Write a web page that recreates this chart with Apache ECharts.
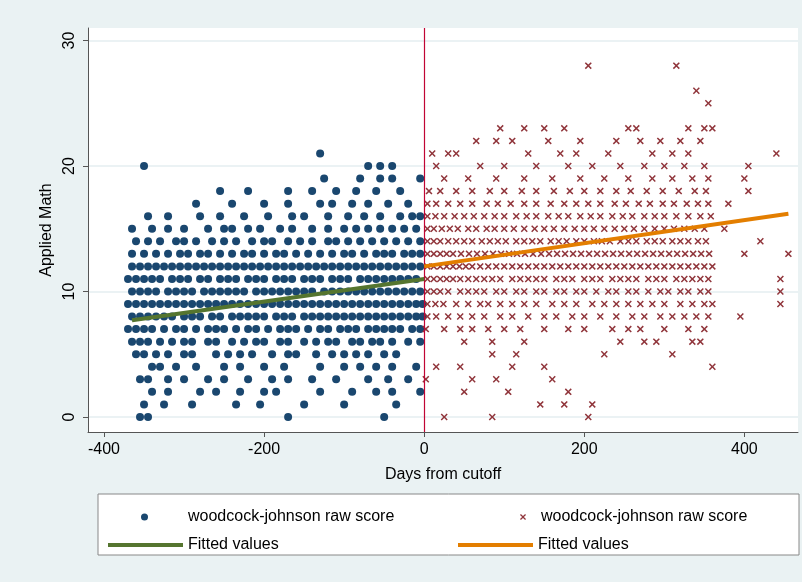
<!DOCTYPE html>
<html>
<head>
<meta charset="utf-8">
<script src="https://cdn.jsdelivr.net/npm/echarts@6/dist/echarts.min.js"></script>
<style>html,body{margin:0;padding:0;background:#eaf2f3}#chart{width:802px;height:582px}</style>
</head>
<body>
<div id="chart"></div>
<script>
// blue dots before cutoff: one list of x values per score
const leftRows = {
  0: [-355, -345, -170, -50],
  1: [-350, -325, -290, -235, -205, -150, -100, -35],
  2: [-340, -320, -280, -260, -230, -200, -185, -130, -90, -60, -40, -5],
  3: [-355, -345, -320, -300, -270, -250, -220, -190, -170, -140, -110, -70, -45, -20],
  4: [-340, -330, -310, -285, -250, -230, -200, -175, -130, -100, -80, -60, -40, -10],
  5: [-360, -350, -335, -320, -300, -290, -260, -245, -230, -215, -190, -170, -160, -135, -115, -100, -85, -70, -50, -35],
  6: [-365, -355, -345, -330, -315, -300, -290, -270, -260, -240, -225, -210, -200, -180, -170, -150, -135, -120, -110, -90, -80, -65, -55, -40, -20, -5],
  7: [-370, -360, -350, -340, -325, -310, -300, -285, -270, -260, -250, -235, -220, -210, -195, -180, -170, -160, -145, -130, -120, -105, -95, -85, -70, -60, -50, -40, -30, -15, -5],
  8: [-365, -355, -345, -335, -325, -315, -300, -290, -280, -265, -255, -240, -230, -220, -210, -200, -185, -175, -165, -150, -140, -130, -120, -110, -100, -90, -80, -70, -60, -50, -40, -30, -20, -10, -2],
  9: [-370, -360, -350, -340, -330, -320, -310, -300, -290, -280, -270, -260, -250, -240, -230, -220, -210, -200, -190, -180, -170, -160, -150, -140, -130, -120, -110, -100, -90, -80, -70, -60, -50, -40, -30, -20, -10, -2],
  10: [-365, -355, -345, -335, -320, -310, -300, -290, -275, -265, -255, -245, -235, -225, -210, -200, -190, -180, -170, -160, -150, -140, -125, -115, -105, -95, -85, -75, -65, -55, -45, -35, -25, -15, -5],
  11: [-370, -360, -350, -340, -330, -315, -305, -295, -280, -270, -255, -245, -235, -220, -210, -200, -185, -175, -165, -150, -140, -130, -115, -105, -95, -80, -70, -60, -50, -40, -30, -20, -10],
  12: [-365, -355, -345, -335, -325, -315, -305, -295, -285, -275, -265, -255, -245, -235, -225, -215, -205, -195, -185, -175, -165, -155, -145, -135, -125, -115, -105, -95, -85, -75, -65, -55, -45, -35, -25, -15, -5],
  13: [-365, -350, -335, -320, -305, -295, -280, -270, -255, -240, -225, -215, -200, -185, -175, -160, -145, -130, -115, -100, -90, -75, -60, -50, -40, -25, -15, -5],
  14: [-360, -345, -330, -310, -300, -285, -265, -250, -235, -215, -200, -190, -170, -155, -140, -120, -110, -95, -80, -65, -50, -35, -20, -5],
  15: [-365, -340, -320, -300, -270, -250, -240, -220, -205, -180, -165, -140, -120, -100, -85, -70, -55, -40, -25, -10],
  16: [-345, -320, -280, -255, -225, -195, -165, -150, -120, -95, -75, -55, -30, -15, -5],
  17: [-285, -240, -200, -170, -130, -115, -90, -70, -45, -20],
  18: [-255, -220, -170, -140, -110, -85, -60, -30],
  19: [-125, -80, -55, -40, -5],
  20: [-350, -70, -55, -40],
  21: [-130]
};
// red crosses after cutoff
const rightRows = {
  0: [25, 85, 205],
  1: [145, 175, 210],
  2: [50, 105, 180],
  3: [2, 60, 90, 160],
  4: [15, 45, 110, 150, 360],
  5: [85, 115, 225, 310],
  6: [50, 85, 125, 245, 275, 290, 335, 345],
  7: [2, 25, 45, 60, 80, 100, 120, 150, 180, 200, 235, 255, 270, 300, 330, 350],
  8: [4, 15, 30, 45, 60, 75, 95, 110, 130, 150, 165, 185, 200, 220, 240, 260, 275, 295, 310, 325, 340, 355, 395],
  9: [4, 14, 24, 40, 55, 70, 80, 95, 110, 125, 140, 160, 175, 190, 210, 225, 240, 255, 270, 285, 300, 320, 335, 350, 360, 445],
  10: [4, 12, 20, 30, 45, 55, 65, 75, 90, 100, 115, 125, 140, 150, 165, 175, 190, 200, 215, 230, 240, 255, 265, 280, 295, 305, 320, 330, 345, 355, 445],
  11: [4, 12, 20, 28, 36, 45, 55, 65, 75, 85, 95, 110, 120, 130, 140, 150, 165, 175, 185, 200, 210, 220, 235, 245, 255, 265, 280, 290, 300, 315, 325, 335, 345, 355, 445],
  12: [4, 12, 20, 28, 36, 44, 52, 60, 70, 80, 90, 100, 110, 120, 130, 140, 150, 160, 170, 180, 190, 200, 210, 220, 230, 240, 250, 260, 270, 280, 290, 300, 310, 320, 330, 340, 350, 360],
  13: [4, 12, 20, 28, 36, 46, 56, 66, 76, 86, 96, 106, 116, 126, 136, 146, 156, 166, 176, 186, 196, 206, 216, 226, 236, 246, 256, 266, 276, 286, 296, 306, 316, 326, 336, 346, 356, 400, 455],
  14: [4, 12, 20, 30, 40, 50, 60, 72, 82, 92, 102, 115, 125, 135, 145, 158, 168, 178, 190, 200, 212, 222, 232, 245, 255, 265, 278, 288, 298, 310, 320, 330, 342, 352, 420],
  15: [4, 12, 22, 32, 42, 55, 65, 78, 88, 100, 112, 125, 138, 150, 162, 175, 188, 200, 212, 225, 238, 250, 262, 275, 288, 300, 312, 325, 338, 350, 375],
  16: [4, 14, 25, 38, 50, 62, 75, 88, 100, 115, 128, 140, 155, 168, 180, 195, 208, 220, 235, 248, 260, 275, 288, 300, 315, 330, 345, 358],
  17: [4, 15, 30, 45, 60, 78, 92, 108, 125, 140, 158, 175, 190, 205, 220, 238, 252, 268, 282, 298, 312, 328, 342, 355, 380],
  18: [6, 20, 40, 60, 82, 100, 122, 140, 162, 182, 200, 220, 240, 258, 278, 298, 318, 338, 352, 405],
  19: [25, 55, 90, 125, 160, 195, 225, 255, 285, 310, 335, 355, 400],
  20: [15, 70, 100, 140, 180, 210, 245, 275, 300, 325, 350, 405],
  21: [10, 30, 40, 130, 170, 190, 230, 285, 310, 330, 440],
  22: [65, 90, 110, 155, 195, 240, 270, 295, 320, 345],
  23: [95, 125, 150, 175, 255, 265, 330, 350, 360],
  25: [355],
  26: [340],
  28: [205, 315]
};
// fitted lines: [x, y] at the ends
const fitLeft = [[-365, 7.7], [0, 11.0]];
const fitRight = [[0, 12.0], [455, 16.2]];
const xTicks = [-400, -200, 0, 200, 400];
const yTicks = [0, 10, 20, 30];

function rowsToPoints(rows) {
  const pts = [];
  Object.keys(rows).forEach(y => rows[y].forEach(x => pts.push([x, Number(y)])));
  return pts;
}

const cross = 'path://M0,1.5L1.5,0L5,3.5L8.5,0L10,1.5L6.5,5L10,8.5L8.5,10L5,6.5L1.5,10L0,8.5L3.5,5Z';
const font = 'Liberation Sans, Arial, sans-serif';

function legendBox(left, top, item, iconW, iconH, padLeft) {
  return {
    left: left, top: top, itemWidth: iconW, itemHeight: iconH, itemGap: 0,
    textStyle: { fontSize: 16, color: '#000', padding: [0, 0, 0, padLeft] },
    selectedMode: false, data: [item]
  };
}

const chart = echarts.init(document.getElementById('chart'));
chart.setOption({
  backgroundColor: '#eaf2f3',
  animation: false,
  textStyle: { fontFamily: font },
  grid: { left: 88, right: 4, top: 28, bottom: 150, show: true, backgroundColor: '#fff', borderWidth: 0 },
  xAxis: {
    type: 'value', min: -420, max: 467,
    name: 'Days from cutoff', nameLocation: 'middle', nameGap: 35,
    nameTextStyle: { fontSize: 16, color: '#000' },
    axisLine: { onZero: false, lineStyle: { color: '#555' } },
    axisTick: { show: true, length: 5, customValues: xTicks, lineStyle: { color: '#555' } },
    axisLabel: { customValues: xTicks, fontSize: 16, color: '#000', margin: 10 },
    splitLine: { show: false }
  },
  yAxis: {
    type: 'value', min: -1.2, max: 31,
    name: 'Applied Math', nameLocation: 'middle', nameGap: 28,
    nameTextStyle: { fontSize: 16, color: '#000' },
    axisLine: { show: true, onZero: false, lineStyle: { color: '#555' } },
    axisTick: { show: true, length: 5, customValues: yTicks, lineStyle: { color: '#555' } },
    axisLabel: { customValues: yTicks, fontSize: 16, color: '#000', rotate: 90, margin: 10 },
    splitLine: { show: true, customValues: yTicks, lineStyle: { color: '#e4eef0', width: 1.5 } }
  },
  legend: [
    legendBox(136, 504, { name: 'woodcock-johnson raw score', icon: 'circle', itemStyle: { color: '#1a476f' } }, 7, 7, 35),
    legendBox(103, 532, { name: 'Fitted values', icon: 'rect', itemStyle: { color: '#55752f' } }, 75, 4, 0),
    legendBox(515, 504, { name: 'woodcock-johnson raw score ', icon: cross, itemStyle: { color: '#90353b' } }, 6, 6, 10),
    legendBox(453, 532, { name: 'Fitted values ', icon: 'rect', itemStyle: { color: '#e37e00' } }, 75, 4, 0)
  ],
  graphic: [{
    type: 'rect', z: -1, silent: true,
    shape: { x: 98, y: 494, width: 701, height: 61 },
    style: { fill: '#fff', stroke: '#888', lineWidth: 1 }
  }],
  series: [
    {
      name: 'woodcock-johnson raw score', type: 'scatter', symbol: 'circle', symbolSize: 8,
      itemStyle: { color: '#1a476f', opacity: 1 }, data: rowsToPoints(leftRows),
      markLine: {
        silent: true, symbol: 'none', label: { show: false },
        lineStyle: { color: '#c10534', width: 1.2, type: 'solid' },
        data: [{ xAxis: 0 }]
      }
    },
    {
      name: 'woodcock-johnson raw score ', type: 'scatter', symbol: cross, symbolSize: 7,
      itemStyle: { color: '#90353b', opacity: 1 }, data: rowsToPoints(rightRows)
    },
    {
      name: 'Fitted values', type: 'line', data: fitLeft, symbol: 'none', z: 5,
      lineStyle: { color: '#55752f', width: 4 }, itemStyle: { color: '#55752f' }
    },
    {
      name: 'Fitted values ', type: 'line', data: fitRight, symbol: 'none', z: 5,
      lineStyle: { color: '#e37e00', width: 4 }, itemStyle: { color: '#e37e00' }
    }
  ]
});
</script>
</body>
</html>
